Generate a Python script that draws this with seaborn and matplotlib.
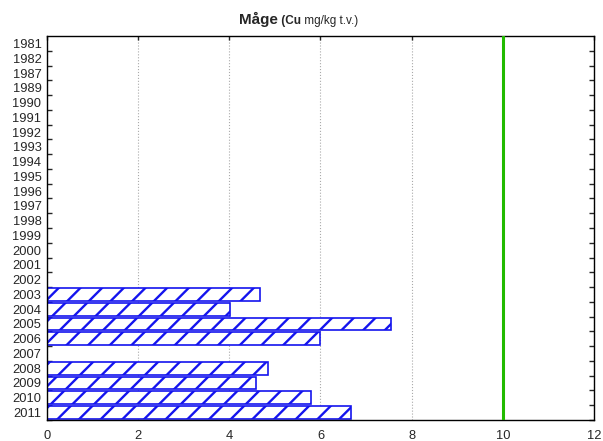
import matplotlib
matplotlib.use("Agg")
import matplotlib.pyplot as plt
import seaborn as sns
import pandas as pd
import numpy as np

years = ["1981", "1982", "1987", "1989"] + [str(y) for y in range(1990, 2012)]
data_years = ["2003", "2004", "2005", "2006", "2008", "2009", "2010", "2011"]
cu_values = [4.67, 4.02, 7.54, 5.98, 4.84, 4.58, 5.80, 6.67]
limit_value = 10
x_ticks = [0, 2, 4, 6, 8, 10, 12]

df = pd.DataFrame({"year": data_years, "cu": cu_values})

# render at a higher dpi so the hatch spacing gets wider; sizes scaled back
DPI = 130
k = 100 / DPI

sns.set_style("white")
plt.rcParams["font.family"] = ["Liberation Sans", "DejaVu Sans"]
plt.rcParams["hatch.linewidth"] = 1.7 * k

fig, ax = plt.subplots(figsize=(603 / DPI, 441 / DPI), dpi=DPI)
fig.subplots_adjust(left=0.078, right=0.985, top=0.918, bottom=0.048)

sns.barplot(data=df, y="year", x="cu", order=years, orient="h",
            color="white", edgecolor="#1414ee", linewidth=1.2 * k,
            width=0.86, ax=ax)
for p in ax.patches:
    p.set_hatch("//")
    p.set_edgecolor("#1414ee")

ax.axvline(limit_value, color="#22bb00", lw=2.2 * k, zorder=5)

ax.set_xlim(0, 12)
ax.set_ylim(len(years) - 0.5, -0.5)
ax.set_xticks(x_ticks)
ax.set_yticks(np.arange(len(years)) + 0.5, minor=True)
ax.xaxis.grid(True, ls=":", color="#aaaaaa", lw=0.8 * k)
ax.set_axisbelow(True)
ax.set_xlabel("")
ax.set_ylabel("")
ax.tick_params(axis="x", labelsize=9.3 * k, length=3 * k, width=k,
               direction="in", top=True, bottom=False, pad=7 * k)
ax.tick_params(axis="y", which="major", labelsize=9.3 * k, length=0, pad=4 * k)
ax.tick_params(axis="y", which="minor", length=3.5 * k, width=k,
               direction="in", left=True, right=True)
for s in ax.spines.values():
    s.set_color("black")
    s.set_linewidth(1.0 * k)

t1 = ax.text(0.422, 1.025, "Måge", transform=ax.transAxes, fontsize=11 * k,
             fontweight="bold", ha="right", va="bottom")
t2 = ax.annotate(" (Cu", xy=(1, 0), xycoords=t1, xytext=(0, 0),
                 textcoords="offset points", fontsize=8.5 * k,
                 fontweight="bold", va="bottom")
ax.annotate(" mg/kg t.v.)", xy=(1, 0), xycoords=t2, xytext=(0, 0),
            textcoords="offset points", fontsize=8.5 * k, va="bottom")

fig.savefig("out.png", dpi=DPI)
